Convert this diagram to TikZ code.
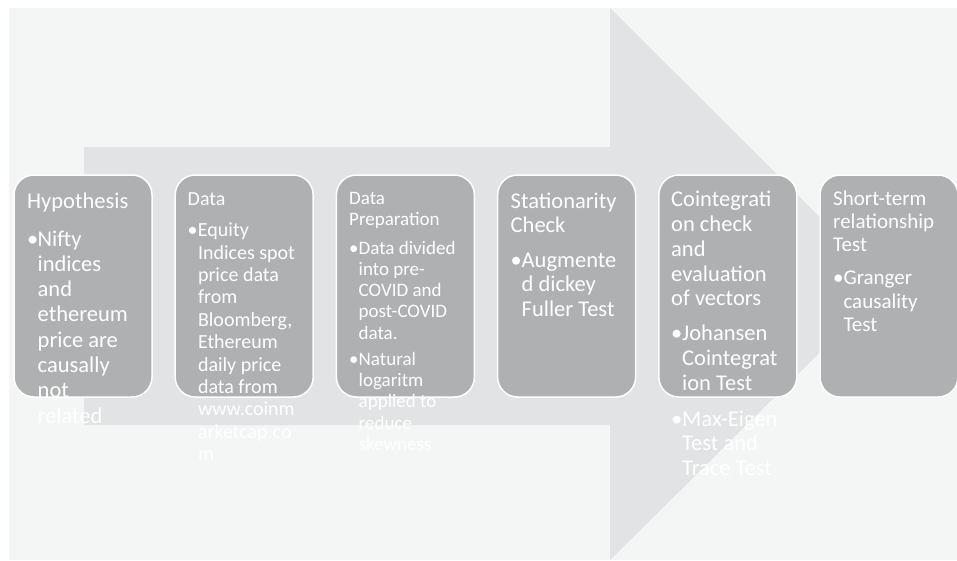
\documentclass[tikz,border=0pt]{standalone}
\usepackage{fontspec}
\setmainfont{Carlito}
\definecolor{bgc}{HTML}{F4F5F5}
\definecolor{arrowc}{HTML}{E2E3E4}
\definecolor{boxc}{HTML}{AFB0B1}
\newlength\bind
\newcommand\bl[1]{\makebox[\bind][l]{\textbullet}#1}
\newcommand\ct[1]{\hspace*{\bind}#1}
\newcommand\txtblock[4]{\parbox[t]{300pt}{\fontsize{#1}{#2}\selectfont\setlength\bind{#3}#4}}
\begin{document}
\begin{tikzpicture}[x=1pt,y=-1pt,
  stage/.style={draw=white, line width=1.5pt, fill=boxc, rounded corners=20pt,
    minimum width=138pt, minimum height=222pt, inner sep=0pt},
  txt/.style={anchor=base west, inner sep=0pt, text=white}]
\useasboundingbox (0,0) rectangle (957,560);
\fill[bgc] (9,8) rectangle (957,560);
\fill[arrowc] (84,147) -- (610,147) -- (610,8) -- (888,285) -- (610,560) -- (610,425) -- (84,425) -- cycle;

\node[stage] (b1) at (83,286) {};
\node[stage] (b2) at (244.2,286) {};
\node[stage] (b3) at (405.4,286) {};
\node[stage] (b4) at (566.6,286) {};
\node[stage] (b5) at (727.8,286) {};
\node[stage] (b6) at (889,286) {};

\node[txt] (t1) at (27,208) {\txtblock{22.5}{25.3}{10.5pt}{Hypothesis\\[12.7pt]
\bl{Nifty}\\ \ct{indices}\\ \ct{and}\\ \ct{ethereum}\\ \ct{price are}\\ \ct{causally}\\ \ct{not}\\ \ct{related}}};

\node[txt] (t2) at (187.5,205) {\txtblock{20}{22.4}{10.3pt}{Data\\[9.3pt]
\bl{Equity}\\ \ct{Indices spot}\\ \ct{price data}\\ \ct{from}\\ \ct{Bloomberg,}\\ \ct{Ethereum}\\ \ct{daily price}\\ \ct{data from}\\ \ct{www.coinm}\\ \ct{arketcap.co}\\ \ct{m}}};

\node[txt] (t3) at (349,204) {\txtblock{19}{21.3}{9.5pt}{Data\\ Preparation\\[7.4pt]
\bl{Data divided}\\ \ct{into pre-}\\ \ct{COVID and}\\ \ct{post-COVID}\\ \ct{data.}\\[4.7pt]
\bl{Natural}\\ \ct{logaritm}\\ \ct{applied to}\\ \ct{reduce}\\ \ct{skewness}}};

\node[txt] (t4) at (510.5,208.3) {\txtblock{22.5}{24.5}{11pt}{Stationarity\\ Check\\[10pt]
\bl{Augmente}\\ \ct{d dickey}\\ \ct{Fuller Test}}};

\node[txt] (t5) at (671,206.7) {\txtblock{22.5}{24.8}{11pt}{Cointegrati\\ on check\\ and\\ evaluation\\ of vectors\\[10pt]
\bl{Johansen}\\ \ct{Cointegrat}\\ \ct{ion Test}\\[11pt]
\bl{Max-Eigen}\\ \ct{Test and}\\ \ct{Trace Test}}};

\node[txt] (t6) at (833,205) {\txtblock{21}{23.3}{10.3pt}{Short-term\\ relationship\\ Test\\[10pt]
\bl{Granger}\\ \ct{causality}\\ \ct{Test}}};
\end{tikzpicture}
\end{document}
